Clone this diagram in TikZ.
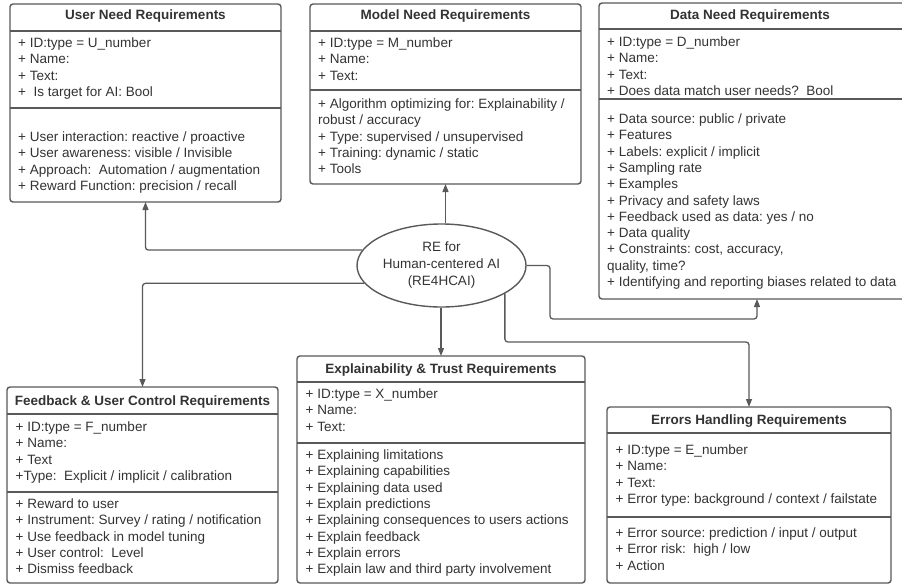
\documentclass[tikz,border=0pt]{standalone}
\usepackage{fontspec}
\setmainfont{Liberation Sans}
\usetikzlibrary{arrows.meta,shapes.geometric,calc}
\definecolor{ink}{HTML}{333333}
\definecolor{rule}{HTML}{595959}

% one compartment: name, left x, first baseline y, list of lines
\newcommand{\attrlines}[4]{%
  \foreach \ln [count=\i] in {#4} {
    \node[attr] (#1-\i) at (#2, {#3 + 16.3*(\i-1)}) {\ln};
  }%
}

\begin{document}
\begin{tikzpicture}[x=1pt, y=-1pt,
  font=\fontsize{13.5}{16}\selectfont\frenchspacing,
  box/.style={draw=rule, line width=1.4pt, rounded corners=3pt, fill=white,
    anchor=north west, inner sep=0pt, outer sep=0pt},
  divider/.style={draw=rule, line width=1.4pt},
  title/.style={anchor=base, inner sep=0pt, text=ink, font=\fontsize{13.5}{16}\selectfont\bfseries},
  attr/.style={anchor=base west, inner sep=0pt, text=ink},
  link/.style={draw=rule, line width=1.3pt, rounded corners=3pt,
    -{Triangle[length=8pt,width=6pt]}},
  hub/.style={ellipse, draw=rule, line width=1.4pt, inner sep=0pt,
    minimum width=169pt, minimum height=83pt, text=ink, align=center,
    font=\fontsize{13.5}{17}\selectfont}
]
\useasboundingbox (0,0) rectangle (902,586);

% ---------- User Need Requirements ----------
\node[box, minimum width=271pt, minimum height=198pt] (user) at (10,4) {};
\draw[divider] (user.west |- 0,31) -- (user.east |- 0,31);
\draw[divider] (user.west |- 0,108) -- (user.east |- 0,108);
\node[title] (user-t) at (user.north |- 0,20) {User Need Requirements};
\attrlines{ua}{18}{47.5}{+ ID:type = U\_number, + Name:, + Text:, +\ \ Is target for AI: Bool}
\attrlines{ub}{18}{141.5}{+ User interaction: reactive / proactive, + User awareness: visible / Invisible, + Approach:\ \ Automation / augmentation, + Reward Function: precision / recall}

% ---------- Model Need Requirements ----------
\node[box, minimum width=271pt, minimum height=180pt] (model) at (310,4) {};
\draw[divider] (model.west |- 0,31) -- (model.east |- 0,31);
\draw[divider] (model.west |- 0,90) -- (model.east |- 0,90);
\node[title] (model-t) at (model.north |- 0,20) {Model Need Requirements};
\attrlines{ma}{318}{47.5}{+ ID:type = M\_number, + Name:, + Text:}
\attrlines{mb}{318}{108.5}{+ Algorithm optimizing for: Explainability /, robust / accuracy, + Type: supervised / unsupervised, + Training: dynamic / static, + Tools}

% ---------- Data Need Requirements ----------
\node[box, minimum width=316pt, minimum height=296pt] (data) at (599,3) {};
\draw[divider] (data.west |- 0,29) -- (data.east |- 0,29);
\draw[divider] (data.west |- 0,99) -- (data.east |- 0,99);
\node[title] (data-t) at (599+151,19.5) {Data Need Requirements};
\attrlines{da}{607}{46.5}{+ ID:type = D\_number, + Name:, + Text:, + Does data match user needs?\ \ Bool}
\attrlines{db}{607}{123.5}{+ Data source: public / private, + Features, + Labels: explicit / implicit, + Sampling rate, + Examples, + Privacy and safety laws, + Feedback used as data: yes / no, + Data quality, {+ Constraints: cost, accuracy,}, {quality, time?}, + Identifying and reporting biases related to data}

% ---------- Feedback & User Control Requirements ----------
\node[box, minimum width=271pt, minimum height=196pt] (fb) at (7,387) {};
\draw[divider] (fb.west |- 0,414) -- (fb.east |- 0,414);
\draw[divider] (fb.west |- 0,492) -- (fb.east |- 0,492);
\node[title] (fb-t) at (fb.north |- 0,405) {Feedback \& User Control Requirements};
\attrlines{fa}{15.5}{431.5}{+ ID:type = F\_number, + Name:, + Text, +Type:\ \ Explicit / implicit / calibration}
\attrlines{fbb}{15.5}{508.5}{+ Reward to user, + Instrument: Survey / rating / notification, + Use feedback in model tuning, + User control:\ \ Level, + Dismiss feedback}

% ---------- Explainability & Trust Requirements ----------
\node[box, minimum width=288pt, minimum height=227pt] (expl) at (297,356) {};
\draw[divider] (expl.west |- 0,382) -- (expl.east |- 0,382);
\draw[divider] (expl.west |- 0,443) -- (expl.east |- 0,443);
\node[title] (expl-t) at (expl.north |- 0,373.5) {Explainability \& Trust Requirements};
\attrlines{xa}{305.5}{398.5}{+ ID:type = X\_number, + Name:, + Text:}
\attrlines{xb}{305.5}{459.5}{+ Explaining limitations, + Explaining capabilities, + Explaining data used, + Explain predictions, + Explaining consequences to users actions, + Explain feedback, + Explain errors, + Explain law and third party involvement}

% ---------- Errors Handling Requirements ----------
\node[box, minimum width=284pt, minimum height=176pt] (err) at (607,407) {};
\draw[divider] (err.west |- 0,433) -- (err.east |- 0,433);
\draw[divider] (err.west |- 0,517) -- (err.east |- 0,517);
\node[title] (err-t) at (err.north |- 0,424.5) {Errors Handling Requirements};
\attrlines{ea}{615.5}{454.5}{+ ID:type = E\_number, + Name:, + Text:, + Error type: background / context / failstate}
\attrlines{eb}{615.5}{537.5}{+ Error source: prediction / input / output, + Error risk:\ \ high / low, + Action}

% ---------- central ellipse ----------
\node[hub] (re) at (441.5,265.5) {RE for\\Human-centered AI\\(RE4HCAI)};

% ---------- connectors ----------
\coordinate (jD) at (550,319);
\coordinate (jE) at (505,342);
\coordinate (dtip) at ([xshift=0pt]data.south);

\draw[link] (re.169) -| (user.south);
\draw[link] (model.south |- re.north) -- (model.south);
\draw[link] (re.193) -| (fb.north);
\draw[link] (expl.north |- re.south) -- (expl.north);
\draw[link] (re.east) -| (jD) -| (dtip);
\draw[link] (re.336.7) |- (jE -| err.north) -- (err.north);
\end{tikzpicture}
\end{document}
